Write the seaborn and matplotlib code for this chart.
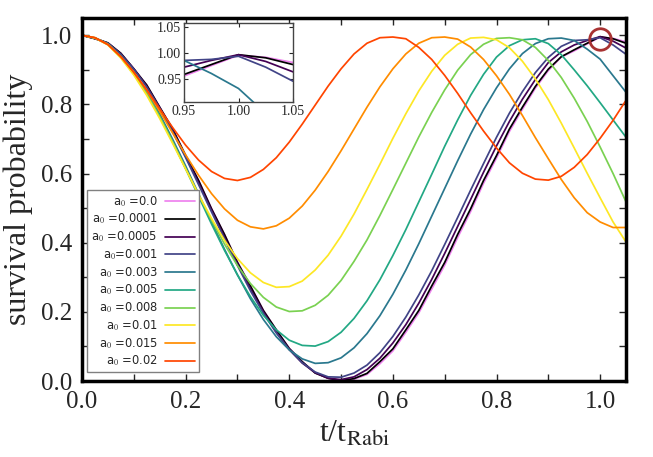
import numpy as np
import pandas as pd
import matplotlib
matplotlib.use("Agg")
import matplotlib.pyplot as plt
import seaborn as sns
from matplotlib.ticker import MultipleLocator

# time axis in units of t_Rabi
t_vals = [0.000, 0.025, 0.050, 0.075, 0.100, 0.125, 0.150, 0.175, 0.200, 0.225,
          0.250, 0.275, 0.300, 0.325, 0.350, 0.375, 0.400, 0.425, 0.450, 0.475,
          0.500, 0.525, 0.550, 0.575, 0.600, 0.625, 0.650, 0.675, 0.700, 0.725,
          0.750, 0.775, 0.800, 0.825, 0.850, 0.875, 0.900, 0.925, 0.950, 0.975,
          1.000, 1.025, 1.050]

p_a0_0 = [1.000, 0.990, 0.978, 0.947, 0.903, 0.855, 0.792, 0.729, 0.653, 0.580,
          0.499, 0.424, 0.345, 0.275, 0.205, 0.148, 0.095, 0.056, 0.024, 0.008,
          0.002, 0.005, 0.019, 0.050, 0.087, 0.141, 0.197, 0.266, 0.335, 0.415,
          0.490, 0.572, 0.645, 0.722, 0.786, 0.847, 0.898, 0.937, 0.955, 0.975,
          0.995, 0.991, 0.981]
p_a0_00001 = [1.000, 0.990, 0.978, 0.948, 0.903, 0.856, 0.792, 0.729, 0.652, 0.580,
              0.498, 0.424, 0.343, 0.275, 0.204, 0.148, 0.094, 0.056, 0.023, 0.008,
              0.001, 0.007, 0.022, 0.056, 0.093, 0.148, 0.204, 0.275, 0.343, 0.424,
              0.498, 0.580, 0.652, 0.729, 0.792, 0.852, 0.902, 0.938, 0.958, 0.977,
              0.996, 0.990, 0.977]
p_a0_00005 = [1.000, 0.991, 0.977, 0.946, 0.903, 0.852, 0.790, 0.724, 0.650, 0.573,
              0.494, 0.416, 0.339, 0.267, 0.200, 0.141, 0.091, 0.052, 0.024, 0.008,
              0.004, 0.012, 0.033, 0.066, 0.110, 0.163, 0.225, 0.294, 0.369, 0.447,
              0.525, 0.604, 0.680, 0.751, 0.815, 0.872, 0.921, 0.952, 0.972, 0.985,
              0.996, 0.983, 0.963]
p_a0_0001 = [1.000, 0.992, 0.977, 0.945, 0.902, 0.850, 0.789, 0.720, 0.646, 0.568,
             0.489, 0.411, 0.334, 0.261, 0.196, 0.139, 0.091, 0.053, 0.026, 0.012,
             0.011, 0.023, 0.046, 0.082, 0.129, 0.185, 0.249, 0.319, 0.395, 0.473,
             0.552, 0.629, 0.705, 0.775, 0.837, 0.892, 0.936, 0.968, 0.985, 0.987,
             0.993, 0.972, 0.945]
p_a0_0003 = [1.000, 0.992, 0.976, 0.940, 0.894, 0.838, 0.772, 0.699, 0.622, 0.541,
             0.460, 0.381, 0.307, 0.238, 0.178, 0.128, 0.090, 0.064, 0.051, 0.053,
             0.067, 0.096, 0.137, 0.189, 0.251, 0.321, 0.397, 0.477, 0.557, 0.637,
             0.714, 0.785, 0.848, 0.903, 0.947, 0.976, 0.990, 0.992, 0.985, 0.960,
             0.931, 0.883, 0.835]
p_a0_0005 = [1.000, 0.992, 0.974, 0.937, 0.890, 0.832, 0.766, 0.692, 0.614, 0.534,
             0.454, 0.378, 0.307, 0.244, 0.190, 0.148, 0.118, 0.103, 0.101, 0.114,
             0.141, 0.181, 0.232, 0.293, 0.363, 0.438, 0.518, 0.598, 0.679, 0.755,
             0.826, 0.887, 0.937, 0.970, 0.987, 0.990, 0.976, 0.944, 0.900, 0.854,
             0.805, 0.755, 0.705]
p_a0_0008 = [1.000, 0.993, 0.973, 0.936, 0.888, 0.830, 0.764, 0.691, 0.615, 0.539,
             0.465, 0.396, 0.334, 0.282, 0.242, 0.214, 0.201, 0.203, 0.219, 0.248,
             0.291, 0.346, 0.408, 0.479, 0.554, 0.630, 0.706, 0.777, 0.842, 0.899,
             0.944, 0.974, 0.991, 0.993, 0.987, 0.965, 0.927, 0.878, 0.818, 0.751,
             0.677, 0.600, 0.518]
p_a0_001 = [1.000, 0.992, 0.972, 0.934, 0.885, 0.826, 0.759, 0.687, 0.613, 0.539,
            0.470, 0.407, 0.354, 0.313, 0.285, 0.271, 0.273, 0.289, 0.321, 0.364,
            0.419, 0.483, 0.554, 0.627, 0.702, 0.773, 0.839, 0.896, 0.942, 0.974,
            0.992, 0.994, 0.987, 0.964, 0.925, 0.874, 0.814, 0.746, 0.674, 0.601,
            0.530, 0.460, 0.402]
p_a0_0015 = [1.000, 0.993, 0.974, 0.938, 0.893, 0.840, 0.780, 0.717, 0.654, 0.595,
             0.542, 0.498, 0.465, 0.446, 0.440, 0.449, 0.471, 0.506, 0.552, 0.606,
             0.666, 0.729, 0.792, 0.851, 0.903, 0.946, 0.977, 0.993, 0.995, 0.989,
             0.966, 0.930, 0.883, 0.829, 0.768, 0.704, 0.643, 0.583, 0.530, 0.487,
             0.460, 0.444, 0.444]
p_a0_002 = [1.000, 0.993, 0.973, 0.938, 0.893, 0.842, 0.787, 0.733, 0.682, 0.639,
            0.606, 0.586, 0.580, 0.589, 0.612, 0.646, 0.691, 0.743, 0.798, 0.853,
            0.903, 0.946, 0.977, 0.993, 0.995, 0.990, 0.965, 0.930, 0.884, 0.832,
            0.776, 0.723, 0.674, 0.631, 0.601, 0.584, 0.581, 0.592, 0.618, 0.655,
            0.702, 0.754, 0.812]

labels = ["a$_0$ =0.0", "a$_0$ =0.0001", "a$_0$ =0.0005", "a$_0$=0.001",
          "a$_0$ =0.003", "a$_0$ =0.005", "a$_0$ =0.008", "a$_0$ =0.01",
          "a$_0$ =0.015", "a$_0$ =0.02"]
series = [p_a0_0, p_a0_00001, p_a0_00005, p_a0_0001, p_a0_0003,
          p_a0_0005, p_a0_0008, p_a0_001, p_a0_0015, p_a0_002]
colors = ["#ee82ee", "#000000", "#440154", "#414487", "#2a788e",
          "#22a884", "#7ad151", "#fde725", "#ff8c00", "#ff4500"]

df = pd.concat([pd.DataFrame({"t": t_vals, "p": vals, "a0": lab})
                for lab, vals in zip(labels, series)], ignore_index=True)
palette = dict(zip(labels, colors))

sns.set_style("ticks")
plt.rcParams["font.family"] = ["Liberation Serif", "DejaVu Serif"]
plt.rcParams["mathtext.fontset"] = "stix"

fig = plt.figure(figsize=(6.53, 4.57), dpi=100)
ax = fig.add_axes([0.1256, 0.1663, 0.8331, 0.7943])

sns.lineplot(data=df, x="t", y="p", hue="a0", hue_order=labels, palette=palette,
             estimator=None, sort=False, linewidth=1.25, legend=False, ax=ax)

# marker circle around the revival at t = t_Rabi
ax.plot([1.0], [0.99], marker="o", markersize=15.5, markerfacecolor="none",
        markeredgecolor="#a83232", markeredgewidth=2, linestyle="none")

ax.set_xlim(0, 1.05)
ax.set_ylim(0, 1.05)
ax.xaxis.set_major_locator(MultipleLocator(0.2))
ax.xaxis.set_minor_locator(MultipleLocator(0.1))
ax.yaxis.set_major_locator(MultipleLocator(0.2))
ax.yaxis.set_minor_locator(MultipleLocator(0.1))
ax.tick_params(which="both", direction="in", top=True, right=True, length=5,
               width=1, labelsize=18, pad=7)
for sp in ax.spines.values():
    sp.set_linewidth(2.5)
    sp.set_color("black")
ax.set_xlabel("t/t$_\\mathrm{Rabi}$", fontsize=23, labelpad=5)
ax.set_ylabel("survival probability", fontsize=23, labelpad=6)

lines = ax.get_lines()[:len(labels)]
leg = ax.legend(lines, labels, loc="lower left", bbox_to_anchor=(0.010, 0.024),
                markerfirst=False, fancybox=False, edgecolor="gray", framealpha=1,
                prop={"family": "DejaVu Sans", "size": 8.3}, handlelength=2.6,
                handletextpad=0.6, borderpad=0.35, labelspacing=0.28,
                borderaxespad=0)
leg.get_frame().set_linewidth(1)

# inset zoom near t = t_Rabi
axin = fig.add_axes([0.2818, 0.7768, 0.1669, 0.1729])
sns.lineplot(data=df, x="t", y="p", hue="a0", hue_order=labels, palette=palette,
             estimator=None, sort=False, linewidth=1.25, legend=False, ax=axin)
axin.set_xlim(0.95, 1.05)
axin.set_ylim(0.905, 1.057)
axin.set_xticks([0.95, 1.00, 1.05])
axin.set_yticks([0.95, 1.00, 1.05])
axin.set_xticklabels(["0.95", "1.00", "1.05"])
axin.set_yticklabels(["0.95", "1.00", "1.05"])
axin.tick_params(direction="in", top=True, right=True, length=3, labelsize=10, pad=2)
axin.set_xlabel("")
axin.set_ylabel("")
for sp in axin.spines.values():
    sp.set_linewidth(1)
    sp.set_color("#444444")

fig.savefig("out.png", dpi=100)
